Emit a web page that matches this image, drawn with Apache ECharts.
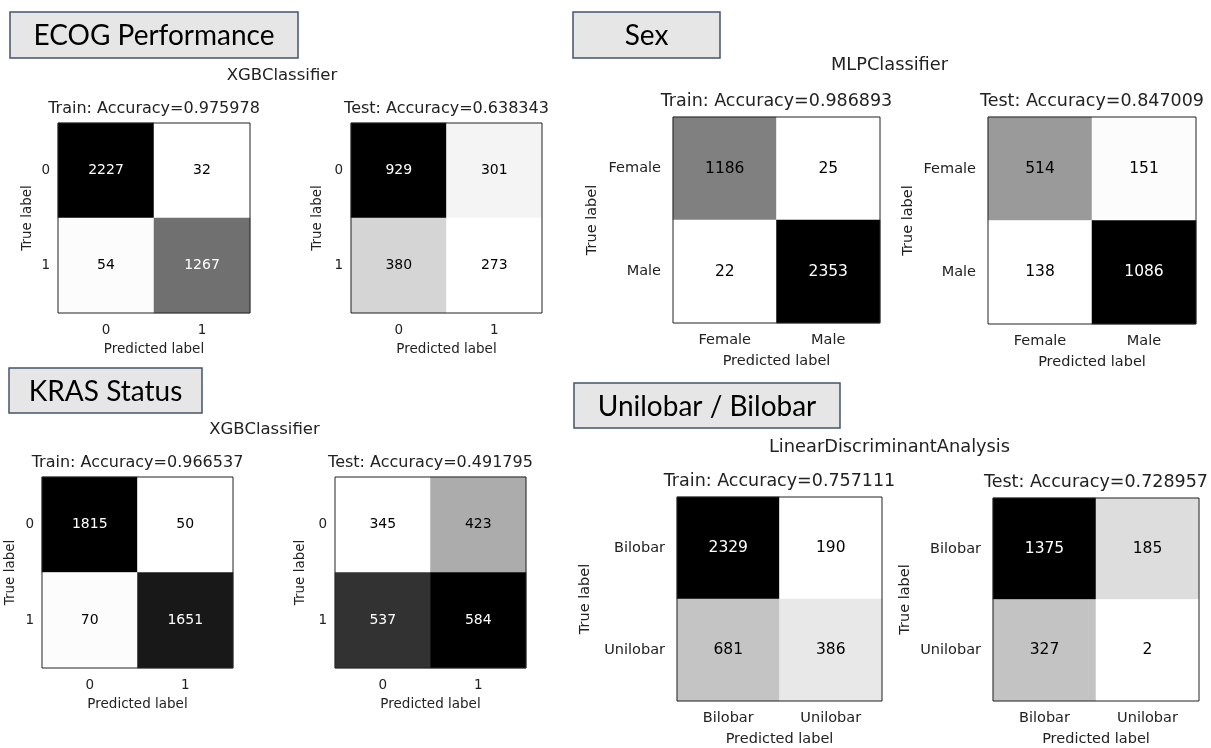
<!DOCTYPE html>
<html>
<head>
<meta charset="utf-8">
<script src="https://cdn.jsdelivr.net/npm/echarts@6/dist/echarts.min.js"></script>
<style>
html, body { margin: 0; padding: 0; background: #fff; }
#chart { width: 1211px; height: 748px; }
</style>
</head>
<body>
<div id="chart"></div>
<script>
// class names on the axes
const binaryLabels = ['0', '1']
const sexLabels = ['Female', 'Male']
const lobarLabels = ['Bilobar', 'Unilobar']

// confusion matrices: rows = true label, columns = predicted label
const ecogTrain = [[2227, 32], [54, 1267]]
const ecogTest = [[929, 301], [380, 273]]
const sexTrain = [[1186, 25], [22, 2353]]
const sexTest = [[514, 151], [138, 1086]]
const krasTrain = [[1815, 50], [70, 1651]]
const krasTest = [[345, 423], [537, 584]]
const lobarTrain = [[2329, 190], [681, 386]]
const lobarTest = [[1375, 185], [327, 2]]

const accuracies = [0.975978, 0.638343, 0.986893, 0.847009, 0.966537, 0.491795, 0.757111, 0.728957]
const splits = ['Train', 'Test', 'Train', 'Test', 'Train', 'Test', 'Train', 'Test']
const headers = ['ECOG Performance', 'Sex', 'KRAS Status', 'Unilobar / Bilobar']
const classifiers = ['XGBClassifier', 'MLPClassifier', 'XGBClassifier', 'LinearDiscriminantAnalysis']

const matrices = [ecogTrain, ecogTest, sexTrain, sexTest, krasTrain, krasTest, lobarTrain, lobarTest]
const classLabels = [binaryLabels, binaryLabels, sexLabels, sexLabels, binaryLabels, binaryLabels, lobarLabels, lobarLabels]

// layout: plot boxes [left, top, width, height]
const boxes = [
  [58, 123, 192, 190],
  [351, 123, 191, 190],
  [673, 117, 207, 206],
  [988, 117, 208, 207],
  [42, 477, 191, 191],
  [335, 477, 191, 191],
  [677, 497, 205, 206],
  [993, 498, 206, 206]
]
const large = [false, false, true, true, false, false, true, true]
const yNameGaps = [24, 27, 73, 72, 25, 28, 84, 80]
// header boxes [x, y, w, h] and classifier name centres
const headerBoxes = [[10, 12, 288, 46], [573, 12, 147, 46], [9, 368, 193, 45], [574, 383, 266, 45]]
const classifierPos = [[282, 75.5, 16.5], [889.5, 65.5, 17.8], [264.5, 430, 16.5], [889.5, 447, 17.8]]

// plain white -> black ramp, like matplotlib's gray_r
const ramp = ['#ffffff', '#000000']
const ink = '#222'
const mplFont = 'DejaVu Sans'

const chart = echarts.init(document.getElementById('chart'))

const grid = []
const xAxis = []
const yAxis = []
const series = []
const visualMap = []
const graphic = []

matrices.forEach((m, i) => {
  const [left, top, width, height] = boxes[i]
  const big = large[i]
  const tickSize = big ? 14.5 : 13.5
  const flat = m.flat()
  const lo = Math.min(...flat)
  const hi = Math.max(...flat)
  const thresh = (lo + hi) / 2

  grid.push({ left, top, width, height, show: true, z: 10, borderColor: ink, borderWidth: 1, backgroundColor: 'transparent' })

  xAxis.push({
    type: 'category',
    gridIndex: i,
    data: classLabels[i],
    name: 'Predicted label',
    nameLocation: 'middle',
    nameGap: big ? 31 : 29,
    nameTextStyle: { color: ink, fontSize: tickSize, fontFamily: mplFont },
    axisLine: { show: false },
    axisTick: { alignWithLabel: true, length: 5, lineStyle: { color: ink } },
    axisLabel: { color: ink, fontSize: tickSize, fontFamily: mplFont, margin: 10 },
    splitLine: { show: false }
  })

  yAxis.push({
    type: 'category',
    gridIndex: i,
    data: classLabels[i],
    inverse: true,
    name: 'True label',
    nameLocation: 'middle',
    nameRotate: 90,
    nameGap: yNameGaps[i],
    nameTextStyle: { color: ink, fontSize: tickSize, fontFamily: mplFont },
    axisLine: { show: false },
    axisTick: { alignWithLabel: true, length: 5, lineStyle: { color: ink } },
    axisLabel: { color: ink, fontSize: tickSize, fontFamily: mplFont, margin: big ? 12 : 8 },
    splitLine: { show: false }
  })

  const items = []
  m.forEach((row, r) => {
    row.forEach((v, c) => {
      items.push({ value: [c, r, v], label: { color: v < thresh ? '#000' : '#fff' } })
    })
  })

  series.push({
    type: 'heatmap',
    xAxisIndex: i,
    yAxisIndex: i,
    data: items,
    label: { show: true, fontSize: big ? 15.5 : 14, fontFamily: mplFont, formatter: (p) => p.value[2] },
    itemStyle: { borderWidth: 0 },
    emphasis: { disabled: true }
  })

  visualMap.push({
    type: 'continuous',
    show: false,
    seriesIndex: i,
    dimension: 2,
    min: lo,
    max: hi,
    inRange: { color: ramp }
  })

  graphic.push({
    type: 'text',
    style: {
      text: splits[i] + ': Accuracy=' + accuracies[i].toFixed(6),
      x: left + width / 2,
      y: top - (big ? 15.5 : 14),
      align: 'center',
      verticalAlign: 'middle',
      fontSize: big ? 17.5 : 16,
      fontFamily: mplFont,
      fill: ink
    }
  })
})

headers.forEach((h, k) => {
  const [x, y, w, hgt] = headerBoxes[k]
  graphic.push({
    type: 'rect',
    shape: { x, y, width: w, height: hgt },
    style: { fill: '#e7e6e6', stroke: '#44546a', lineWidth: 1.5 }
  })
  graphic.push({
    type: 'text',
    style: {
      text: h,
      x: x + w / 2,
      y: y + hgt / 2 + 1,
      align: 'center',
      verticalAlign: 'middle',
      fontSize: 28,
      fontFamily: 'Lato',
      fill: '#000'
    }
  })
  const [cx, cy, fs] = classifierPos[k]
  graphic.push({
    type: 'text',
    style: {
      text: classifiers[k],
      x: cx,
      y: cy,
      align: 'center',
      verticalAlign: 'middle',
      fontSize: fs,
      fontFamily: mplFont,
      fill: ink
    }
  })
})

chart.setOption({
  animation: false,
  backgroundColor: '#fff',
  grid,
  xAxis,
  yAxis,
  visualMap,
  series,
  graphic
})
</script>
</body>
</html>
